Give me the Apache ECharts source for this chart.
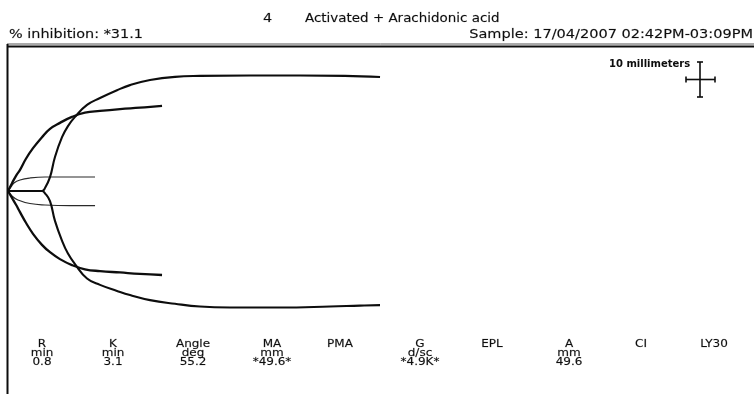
<!DOCTYPE html>
<html><head><meta charset="utf-8">
<script src="https://cdn.jsdelivr.net/npm/echarts@6/dist/echarts.min.js"></script>
<style>html,body{margin:0;padding:0;background:#fff}#c{width:754px;height:394px}</style>
</head><body><div id="c"></div>
<script>
// Time in minutes, amplitude in mm (positive = upper trace, negative = lower trace)
const largeUpper = [[0,0],[2.46,0],[2.68,0.65],[3.04,3.0],[3.40,7.4],[3.91,11.7],[4.34,14.1],[4.85,16.1],[5.72,18.7],[6.66,20.2],[7.89,21.9],[8.83,23.0],[10.28,24.1],[12.09,24.8],[13.90,25.0],[17.52,25.1],[21.14,25.1],[24.39,25.0],[26.93,24.75]];
const largeLower = [[0,0],[2.46,0],[2.68,-0.5],[3.04,-2.2],[3.40,-6.5],[3.91,-10.8],[4.34,-13.6],[4.85,-15.9],[5.72,-19.0],[6.66,-20.4],[7.89,-21.7],[8.83,-22.6],[10.28,-23.7],[12.09,-24.5],[13.90,-25.1],[16.07,-25.3],[19.69,-25.3],[23.31,-25.1],[25.48,-24.9],[26.93,-24.8]];
const mediumUpper = [[0,0],[0.29,1.7],[0.58,3.3],[0.87,4.6],[1.30,7.0],[1.81,9.3],[2.46,11.7],[3.04,13.5],[3.76,14.8],[4.63,16.1],[5.57,17.0],[6.66,17.4],[8.11,17.8],[9.55,18.1],[11.15,18.5]];
const mediumLower = [[0,0],[0.29,-1.5],[0.58,-3.0],[0.87,-4.6],[1.30,-6.9],[1.81,-9.3],[2.46,-11.7],[3.04,-13.3],[3.76,-14.8],[4.63,-16.1],[5.57,-17.0],[6.66,-17.4],[8.11,-17.7],[9.55,-18.0],[11.15,-18.25]];
const smallUpper = [[0,0],[0.22,0.87],[0.43,1.74],[0.87,2.39],[1.59,2.82],[2.68,3.04],[6.30,3.04]];
const smallLower = [[0,0],[0.29,-1.09],[0.72,-1.96],[1.59,-2.72],[2.68,-3.04],[4.49,-3.19],[6.30,-3.19]];

const headerLeft = '% inhibition: *31.1';
const headerChannel = '4';
const headerTitle = 'Activated + Arachidonic acid';
const headerSample = 'Sample: 17/04/2007 02:42PM-03:09PM';
const scaleLabel = '10 millimeters';

const paramNames  = ['R','K','Angle','MA','PMA','G','EPL','A','CI','LY30'];
const paramUnits  = ['min','min','deg','mm','','d/sc','','mm','',''];
const paramValues = ['0.8','3.1','55.2','*49.6*','','*4.9K*','','49.6','',''];

// ---- layout ----
const colX = [42,113,193,272,340,420,492,569,641,714];
const rowY = [344,353.3,362.6];
const FONT = 'DejaVu Sans, Verdana, sans-serif';
const INK = '#0d0d0d';

const chart = echarts.init(document.getElementById('c'));

function txt(text, x, y, opt) {
  opt = opt || {};
  return {
    type: 'text', x: x, y: y, scaleX: opt.sx || 1.2, silent: true,
    style: { text: text, fill: INK, stroke: opt.bold === false ? null : 'rgba(13,13,13,0.35)', lineWidth: 0.4,
             font: (opt.weight || 'normal') + ' ' + (opt.size || 12) + 'px ' + FONT,
             textAlign: opt.align || 'left', textVerticalAlign: 'middle' }
  };
}

const graphics = [
  // frame
  { type: 'line', shape: { x1: 7, y1: 44, x2: 754, y2: 44 }, style: { stroke: '#555', lineWidth: 1 } },
  { type: 'line', shape: { x1: 7, y1: 46.5, x2: 754, y2: 46.5 }, style: { stroke: INK, lineWidth: 2 } },
  { type: 'line', shape: { x1: 7.5, y1: 44, x2: 7.5, y2: 394 }, style: { stroke: INK, lineWidth: 2 } },
  // header texts
  txt(headerLeft, 9, 34.5, { sx: 1.2 }),
  txt(headerChannel, 267.5, 18.5, { sx: 1.2, align: 'center' }),
  txt(headerTitle, 305, 18.5, { sx: 1.12 }),
  txt(headerSample, 753, 34.5, { sx: 1.21, align: 'right' }),
  // scale bar
  txt(scaleLabel, 609, 64, { sx: 1, size: 10, weight: 'bold', bold: false }),
  { type: 'line', shape: { x1: 700, y1: 62, x2: 700, y2: 97 }, style: { stroke: INK, lineWidth: 1.6 } },
  { type: 'line', shape: { x1: 697, y1: 62, x2: 703, y2: 62 }, style: { stroke: INK, lineWidth: 1.6 } },
  { type: 'line', shape: { x1: 697, y1: 97, x2: 703, y2: 97 }, style: { stroke: INK, lineWidth: 1.6 } },
  { type: 'line', shape: { x1: 686, y1: 79.5, x2: 715, y2: 79.5 }, style: { stroke: INK, lineWidth: 1.6 } },
  { type: 'line', shape: { x1: 686, y1: 76.5, x2: 686, y2: 82.5 }, style: { stroke: INK, lineWidth: 1.6 } },
  { type: 'line', shape: { x1: 715, y1: 76.5, x2: 715, y2: 82.5 }, style: { stroke: INK, lineWidth: 1.6 } }
];
paramNames.forEach(function (n, i) {
  graphics.push(txt(n, colX[i], rowY[0], { size: 10, align: 'center' }));
  if (paramUnits[i]) graphics.push(txt(paramUnits[i], colX[i], rowY[1], { size: 10, align: 'center' }));
  if (paramValues[i]) graphics.push(txt(paramValues[i], colX[i], rowY[2], { size: 10, align: 'center' }));
});

function trace(data, width, color) {
  return { type: 'line', data: data, showSymbol: false, smooth: 0.45, silent: true,
           lineStyle: { color: color, width: width }, animation: false };
}

chart.setOption({
  animation: false,
  grid: { left: 8, right: 0, top: 46, bottom: 58 },
  xAxis: { type: 'value', min: 0, max: 54, show: false },
  yAxis: { type: 'value', min: -31.5, max: 31.5, show: false },
  series: [
    trace(smallUpper, 1.2, '#2a2a2a'), trace(smallLower, 1.2, '#2a2a2a'),
    trace(mediumUpper, 2.3, INK), trace(mediumLower, 2.3, INK),
    trace(largeUpper, 2.1, INK), trace(largeLower, 2.1, INK)
  ],
  graphic: { elements: graphics }
});
</script>
</body></html>
